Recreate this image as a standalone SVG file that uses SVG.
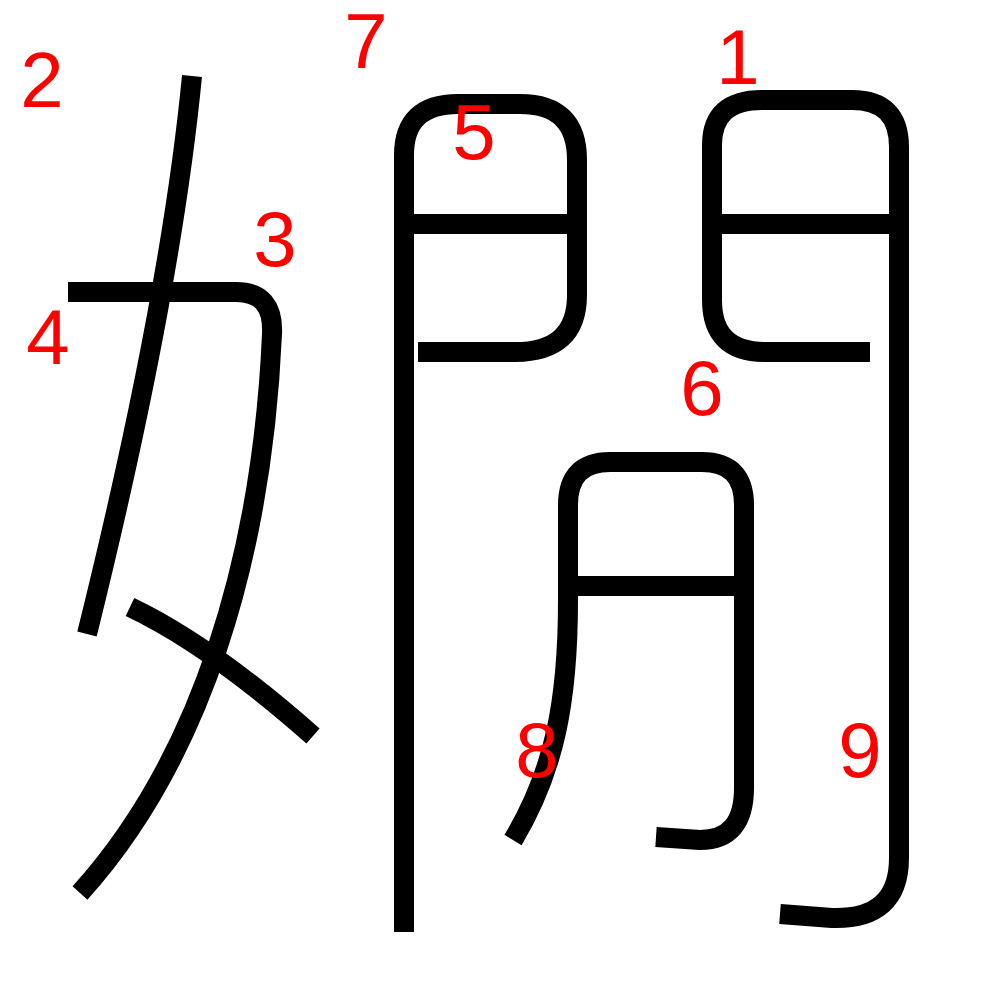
<svg xmlns="http://www.w3.org/2000/svg" width="1000" height="1000" viewBox="0 0 1000 1000">
<style>
.s{fill:none;stroke:#000;stroke-width:20;stroke-linecap:butt;stroke-linejoin:round}
.n{fill:#f00;font-family:"Liberation Sans",Arial,sans-serif;font-size:78px;text-anchor:middle}
</style>
<rect width="1000" height="1000" fill="#fff"/>
<g id="strokes">
<g id="stroke-2"><path class="s" d="M192,76 C180,200 150,380 87,634"/></g>
<g id="stroke-3"><path class="s" d="M68,292 H236 Q274,292 272,334 C262,560 200,760 80,893"/></g>
<g id="stroke-4"><path class="s" d="M130,607 Q210,645 313,736"/></g>
<g id="stroke-7"><path class="s" d="M404,932 V155 Q404,104 458,104"/></g>
<g id="stroke-5"><path class="s" d="M458,104 H520 Q577,104 577,160 V295 Q577,352 515,352 H418"/><path class="s" d="M414,224 H568"/></g>
<g id="stroke-1"><path class="s" d="M712,145 V300 Q712,352 765,352 H870"/><path class="s" d="M722,224 H890"/></g>
<g id="stroke-9"><path class="s" d="M712,145 Q712,100 762,100 H852 Q899,100 899,147 V858 Q899,920 832,918 L780,914"/></g>
<g id="stroke-6"><path class="s" d="M568,505 Q568,462 610,462 H702 Q744,462 744,505 V788 Q744,840 700,840 L656,837"/><path class="s" d="M578,586 H734"/></g>
<g id="stroke-8"><path class="s" d="M568,505 V600 C568,700 555,770 513,840"/></g>
</g>
<g id="labels">
<text class="n" x="738" y="84">1</text>
<text class="n" x="42" y="107">2</text>
<text class="n" x="275" y="266">3</text>
<text class="n" x="48" y="364">4</text>
<text class="n" x="474" y="159">5</text>
<text class="n" x="702" y="415">6</text>
<text class="n" x="366" y="68">7</text>
<text class="n" x="537" y="777">8</text>
<text class="n" x="860" y="777">9</text>
</g>
</svg>
